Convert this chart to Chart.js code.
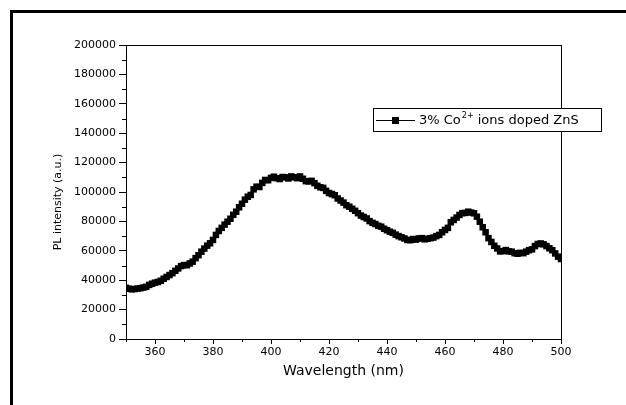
<!DOCTYPE html>
<html>
<head>
<meta charset="utf-8">
<title>PL spectrum</title>
<script src="https://cdn.jsdelivr.net/npm/chart.js@4.4.1/dist/chart.umd.min.js"></script>
<style>
  html, body { margin: 0; padding: 0; background: #fff; }
  #wrap { position: relative; width: 626px; height: 405px; overflow: hidden; }
  #wrap canvas { position: absolute; left: 0; top: 0; }
  #frame { position: absolute; left: 10px; top: 10px; right: -10px; bottom: -10px;
           border-left: 3px solid #000; border-top: 3px solid #000; pointer-events: none; }
</style>
</head>
<body>
<div id="wrap">
  <canvas id="chart" width="626" height="405"></canvas>
  <div id="frame"></div>
</div>
<script>
// Emission wavelengths (nm)
const wavelengths = [
  350, 351, 352, 353, 354, 355, 356, 357, 358, 359,
  360, 361, 362, 363, 364, 365, 366, 367, 368, 369,
  370, 371, 372, 373, 374, 375, 376, 377, 378, 379,
  380, 381, 382, 383, 384, 385, 386, 387, 388, 389,
  390, 391, 392, 393, 394, 395, 396, 397, 398, 399,
  400, 401, 402, 403, 404, 405, 406, 407, 408, 409,
  410, 411, 412, 413, 414, 415, 416, 417, 418, 419,
  420, 421, 422, 423, 424, 425, 426, 427, 428, 429,
  430, 431, 432, 433, 434, 435, 436, 437, 438, 439,
  440, 441, 442, 443, 444, 445, 446, 447, 448, 449,
  450, 451, 452, 453, 454, 455, 456, 457, 458, 459,
  460, 461, 462, 463, 464, 465, 466, 467, 468, 469,
  470, 471, 472, 473, 474, 475, 476, 477, 478, 479,
  480, 481, 482, 483, 484, 485, 486, 487, 488, 489,
  490, 491, 492, 493, 494, 495, 496, 497, 498, 499,
  500
];

// PL intensity (a.u.) of 3% Co2+ doped ZnS
const intensity = [
  34800, 34200, 33800, 34000, 34300, 34600, 35000, 35500, 36800, 37600,
  38300, 38800, 39600, 41000, 42200, 43500, 44800, 46400, 48000, 49600,
  50300, 50200, 51400, 52600, 55000, 57000, 59400, 61500, 63500, 65100,
  67400, 70800, 73500, 75600, 77800, 79800, 81800, 84500, 86600, 89600,
  92000, 94800, 96800, 98000, 101800, 103600, 103400, 106200, 108200, 108000,
  109600, 110400, 109400, 108800, 110200, 110000, 109200, 110600, 110000, 109400,
  110600, 109000, 107400, 107200, 107600, 106000, 104200, 103200, 102800, 100800,
  99300, 98600, 97800, 95600, 94200, 92800, 91000, 90000, 88600, 87200,
  85600, 84000, 83000, 82000, 80200, 79000, 78200, 77000, 76400, 75000,
  74000, 73000, 72200, 71000, 70000, 69200, 68400, 67400, 67200, 68000,
  67600, 68400, 68600, 67800, 68200, 68600, 69000, 70000, 70800, 72600,
  74200, 75600, 79400, 81000, 82600, 84400, 85600, 85800, 86600, 86000,
  85500, 83200, 79800, 76000, 72600, 68600, 66000, 63400, 61600, 59600,
  59800, 60500, 59600, 59400, 58400, 58000, 58600, 58400, 59400, 60400,
  61000, 63200, 64600, 65000, 64400, 63200, 61700, 60400, 58200, 56000,
  54400
];

// Axis ranges and labels
const xRange = [350, 500];
const xMajorStep = 20;
const xMinorStep = 10;
const yRange = [0, 200000];
const yMajorStep = 20000;
const yMinorStep = 10000;
const xTitle = 'Wavelength (nm)';
const yTitle = 'PL intensity (a.u.)';

// Legend text pieces: base, superscript, remainder
const legendParts = ['3% Co', '2+', ' ions doped ZnS'];

const FONT = '"DejaVu Sans", "Liberation Sans", Arial, sans-serif';

const points = wavelengths.map((w, i) => ({ x: w, y: intensity[i] }));

// Closed frame, short minor ticks, rotated y title and boxed legend
const decorations = {
  id: 'decorations',
  afterDraw(chart) {
    const { ctx, chartArea: a, scales: { x, y } } = chart;
    ctx.save();
    ctx.strokeStyle = '#000';
    ctx.lineWidth = 1;

    // plot frame
    ctx.strokeRect(Math.round(a.left) + 0.5, Math.round(a.top) + 0.5,
                   Math.round(a.right - a.left), Math.round(a.bottom - a.top));

    // minor ticks
    ctx.beginPath();
    x.ticks.forEach(t => {
      if (t.value % xMajorStep !== 0) {
        const px = Math.round(x.getPixelForValue(t.value)) + 0.5;
        ctx.moveTo(px, a.bottom);
        ctx.lineTo(px, a.bottom + 3);
      }
    });
    y.ticks.forEach(t => {
      if (t.value % yMajorStep !== 0) {
        const py = Math.round(y.getPixelForValue(t.value)) + 0.5;
        ctx.moveTo(a.left, py);
        ctx.lineTo(a.left - 4, py);
      }
    });
    ctx.stroke();

    // y-axis title
    ctx.save();
    ctx.translate(58, a.top + 157);
    ctx.rotate(-Math.PI / 2);
    ctx.fillStyle = '#000';
    ctx.font = '11px ' + FONT;
    ctx.textAlign = 'center';
    ctx.textBaseline = 'middle';
    ctx.fillText(yTitle, 0, 0);
    ctx.restore();

    // legend box
    const bx = a.left + 247, by = a.top + 63, bw = 228, bh = 23;
    ctx.fillStyle = '#fff';
    ctx.fillRect(bx, by, bw, bh);
    ctx.strokeRect(bx + 0.5, by + 0.5, bw, bh);
    const cy = by + 12.5;
    ctx.beginPath();
    ctx.moveTo(bx + 3, cy);
    ctx.lineTo(bx + 42, cy);
    ctx.stroke();
    ctx.fillStyle = '#000';
    ctx.fillRect(bx + 19, cy - 3.5, 7, 7);

    ctx.textAlign = 'left';
    ctx.textBaseline = 'middle';
    ctx.font = '13px ' + FONT;
    let tx = bx + 46;
    ctx.fillText(legendParts[0], tx, cy);
    tx += ctx.measureText(legendParts[0]).width + 1;
    ctx.font = '8px ' + FONT;
    ctx.fillText(legendParts[1], tx, cy - 5);
    tx += ctx.measureText(legendParts[1]).width;
    ctx.font = '13px ' + FONT;
    ctx.fillText(legendParts[2], tx, cy);
    ctx.restore();
  }
};

new Chart(document.getElementById('chart'), {
  type: 'line',
  data: {
    datasets: [{
      label: legendParts.join(''),
      data: points,
      borderColor: '#000',
      backgroundColor: '#000',
      borderWidth: 1,
      pointStyle: 'rect',
      pointRadius: 4.6,
      pointBorderWidth: 0,
      pointBackgroundColor: '#000',
      tension: 0,
      clip: 0
    }]
  },
  options: {
    responsive: false,
    animation: false,
    devicePixelRatio: 1,
    layout: { padding: { left: 0, top: 45, right: 65, bottom: 0 } },
    plugins: {
      legend: { display: false },
      tooltip: { enabled: false }
    },
    scales: {
      x: {
        type: 'linear',
        min: xRange[0],
        max: xRange[1],
        afterFit(scale) { scale.height = 66; },
        border: { display: true, color: '#000', width: 1 },
        grid: {
          drawOnChartArea: false,
          drawTicks: true,
          tickLength: 5,
          tickWidth: 1,
          tickColor: c => (c.tick && c.tick.value % xMajorStep === 0) ? '#000' : 'rgba(0,0,0,0)'
        },
        ticks: {
          stepSize: xMinorStep,
          autoSkip: false,
          maxRotation: 0,
          padding: 2,
          color: '#000',
          font: { family: FONT, size: 11 },
          callback: v => (v % xMajorStep === 0 ? String(v) : '')
        },
        title: {
          display: true,
          text: xTitle,
          color: '#000',
          font: { family: FONT, size: 14 },
          padding: { top: 0, bottom: 25 }
        }
      },
      y: {
        type: 'linear',
        min: yRange[0],
        max: yRange[1],
        afterFit(scale) { scale.width = 126; },
        border: { display: true, color: '#000', width: 1 },
        grid: {
          drawOnChartArea: false,
          drawTicks: true,
          tickLength: 7,
          tickWidth: 1,
          tickColor: c => (c.tick && c.tick.value % yMajorStep === 0) ? '#000' : 'rgba(0,0,0,0)'
        },
        ticks: {
          stepSize: yMinorStep,
          autoSkip: false,
          padding: 3,
          color: '#000',
          font: { family: FONT, size: 11 },
          callback: v => (v % yMajorStep === 0 ? String(v) : '')
        }
      }
    }
  },
  plugins: [decorations]
});
</script>
</body>
</html>
